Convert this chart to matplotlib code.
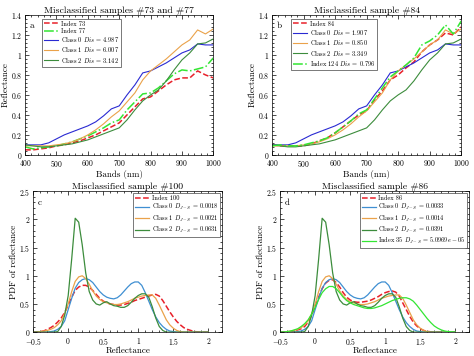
import numpy as np
from matplotlib import pyplot as plt
from matplotlib.ticker import AutoMinorLocator, FuncFormatter

plt.rcParams["font.family"] = "serif"
plt.rcParams["font.serif"] = ["cmr10", "DejaVu Serif"]
plt.rcParams["mathtext.fontset"] = "cm"
plt.rcParams["axes.formatter.use_mathtext"] = True
plt.rcParams["axes.unicode_minus"] = True

# Spectres (bandes en nm)
bands = [400, 425, 450, 475, 500, 525, 550, 575, 600, 625, 650, 675, 700,
         725, 750, 775, 800, 825, 850, 875, 900, 925, 950, 975, 1000]

class0 = [0.10, 0.10, 0.10, 0.12, 0.16, 0.20, 0.23, 0.26, 0.29, 0.33, 0.39, 0.46, 0.49,
          0.60, 0.70, 0.82, 0.84, 0.88, 0.92, 0.97, 1.02, 1.05, 1.11, 1.10, 1.10]
class1 = [0.09, 0.09, 0.09, 0.09, 0.10, 0.11, 0.13, 0.16, 0.20, 0.25, 0.31, 0.38, 0.44,
          0.53, 0.62, 0.75, 0.84, 0.90, 0.96, 1.03, 1.10, 1.15, 1.25, 1.21, 1.26]
class2 = [0.10, 0.09, 0.08, 0.08, 0.09, 0.10, 0.11, 0.13, 0.15, 0.18, 0.21, 0.24, 0.27,
          0.35, 0.45, 0.54, 0.60, 0.65, 0.74, 0.85, 0.95, 1.02, 1.11, 1.12, 1.16]

index73 = [0.05, 0.05, 0.06, 0.07, 0.09, 0.10, 0.12, 0.14, 0.17, 0.20, 0.24, 0.28, 0.32,
           0.40, 0.48, 0.56, 0.58, 0.64, 0.70, 0.75, 0.77, 0.77, 0.84, 0.80, 0.77]
index77 = [0.08, 0.06, 0.07, 0.08, 0.09, 0.11, 0.13, 0.16, 0.19, 0.23, 0.27, 0.32, 0.35,
           0.45, 0.53, 0.61, 0.62, 0.67, 0.74, 0.81, 0.85, 0.84, 0.86, 0.88, 0.97]
index84 = [0.10, 0.09, 0.09, 0.09, 0.09, 0.11, 0.14, 0.17, 0.22, 0.28, 0.34, 0.40, 0.44,
           0.55, 0.64, 0.75, 0.80, 0.87, 0.93, 1.03, 1.10, 1.15, 1.22, 1.20, 1.28]
index124 = [0.09, 0.10, 0.09, 0.09, 0.10, 0.12, 0.14, 0.17, 0.22, 0.28, 0.34, 0.41, 0.45,
            0.56, 0.67, 0.78, 0.84, 0.90, 0.97, 1.10, 1.14, 1.20, 1.30, 1.21, 1.34]

# PDF de la réflectance
refl = [-0.5, -0.45, -0.4, -0.35, -0.3, -0.25, -0.2, -0.15, -0.1, -0.05,
        0.0, 0.05, 0.1, 0.15, 0.2, 0.25, 0.3, 0.35, 0.4, 0.45,
        0.5, 0.55, 0.6, 0.65, 0.7, 0.75, 0.8, 0.85, 0.9, 0.95,
        1.0, 1.05, 1.1, 1.15, 1.2, 1.25, 1.3, 1.35, 1.4, 1.45,
        1.5, 1.55, 1.6, 1.65, 1.7, 1.75, 1.8, 1.85, 1.9, 1.95, 2.0]

pdf_c0 = [0, 0, 0, 0, 0, 0.01, 0.02, 0.05, 0.10, 0.20,
          0.40, 0.60, 0.78, 0.88, 0.93, 0.95, 0.93, 0.88, 0.80, 0.72,
          0.66, 0.62, 0.60, 0.59, 0.61, 0.66, 0.73, 0.80, 0.86, 0.89,
          0.89, 0.83, 0.70, 0.55, 0.40, 0.27, 0.17, 0.10, 0.05, 0.02,
          0.01, 0, 0, 0, 0, 0, 0, 0, 0, 0, 0]
pdf_c1 = [0, 0, 0.01, 0.02, 0.03, 0.05, 0.08, 0.13, 0.20, 0.33,
          0.50, 0.72, 0.90, 0.98, 1.00, 0.95, 0.85, 0.73, 0.64, 0.58,
          0.54, 0.52, 0.50, 0.49, 0.49, 0.50, 0.52, 0.54, 0.57, 0.60,
          0.62, 0.64, 0.65, 0.66, 0.66, 0.60, 0.48, 0.35, 0.22, 0.13,
          0.07, 0.03, 0.01, 0, 0, 0, 0, 0, 0, 0, 0]
pdf_c2 = [0, 0, 0, 0, 0, 0, 0, 0.01, 0.10, 0.30,
          0.65, 1.30, 2.02, 1.95, 1.55, 1.05, 0.72, 0.57, 0.50, 0.48,
          0.52, 0.54, 0.50, 0.47, 0.46, 0.44, 0.44, 0.47, 0.53, 0.60,
          0.65, 0.68, 0.68, 0.62, 0.45, 0.25, 0.10, 0.03, 0, 0,
          0, 0, 0, 0, 0, 0, 0, 0, 0, 0, 0]
pdf_i100 = [0, 0.005, 0.01, 0.02, 0.05, 0.08, 0.12, 0.18, 0.25, 0.35,
            0.48, 0.62, 0.74, 0.80, 0.83, 0.83, 0.80, 0.74, 0.67, 0.60,
            0.55, 0.52, 0.50, 0.49, 0.48, 0.48, 0.49, 0.51, 0.53, 0.56,
            0.58, 0.60, 0.62, 0.64, 0.66, 0.67, 0.64, 0.56, 0.46, 0.36,
            0.27, 0.19, 0.13, 0.08, 0.05, 0.03, 0.01, 0.005, 0, 0, 0]
pdf_i86 = [0, 0, 0, 0.01, 0.02, 0.04, 0.06, 0.10, 0.18, 0.30,
           0.45, 0.62, 0.77, 0.87, 0.92, 0.93, 0.88, 0.80, 0.70, 0.62,
           0.57, 0.54, 0.53, 0.53, 0.54, 0.55, 0.57, 0.60, 0.63, 0.67,
           0.70, 0.72, 0.73, 0.71, 0.64, 0.52, 0.40, 0.28, 0.18, 0.11,
           0.06, 0.03, 0.015, 0.005, 0, 0, 0, 0, 0, 0, 0]
pdf_i35 = [0, 0, 0.01, 0.02, 0.04, 0.06, 0.10, 0.15, 0.22, 0.32,
           0.44, 0.58, 0.70, 0.77, 0.81, 0.81, 0.77, 0.70, 0.62, 0.56,
           0.52, 0.49, 0.47, 0.45, 0.43, 0.42, 0.42, 0.43, 0.45, 0.47,
           0.50, 0.53, 0.56, 0.58, 0.60, 0.61, 0.61, 0.59, 0.55, 0.48,
           0.40, 0.32, 0.24, 0.17, 0.11, 0.07, 0.04, 0.02, 0.01, 0.005, 0]

RED = "#e8202a"
LIME = "#33e633"
BLUE_A = "#2a2ad2"
ORANGE = "#eaa24a"
DGREEN = "#3c8c3c"
BLUE_C = "#3f8fd2"

# étiquettes façon MATLAB : 0, 0.2, ..., 1 (signe moins en mathtext)
fmt_g = FuncFormatter(lambda v, p: "$%g$" % v)


def habillage(ax, lettre, xlabel, ylabel, titre):
    ax.tick_params(which="both", direction="in", top=True, right=True, labelsize=5.5,
                   width=0.5)
    ax.tick_params(axis="x", pad=2.5)
    ax.tick_params(axis="y", pad=2)
    ax.tick_params(which="major", length=3)
    ax.tick_params(which="minor", length=1.5)
    ax.xaxis.set_minor_locator(AutoMinorLocator(5))
    ax.yaxis.set_minor_locator(AutoMinorLocator(5))
    ax.xaxis.set_major_formatter(fmt_g)
    ax.yaxis.set_major_formatter(fmt_g)
    for s in ax.spines.values():
        s.set_linewidth(0.5)
    ax.set_xlabel(xlabel, fontsize=6.5, labelpad=0.3)
    ax.set_ylabel(ylabel, fontsize=6.5, labelpad=1)
    ax.set_title(titre, fontsize=7, pad=1.5)
    ax.text(0.025, 0.95, lettre, transform=ax.transAxes, fontsize=6.5, va="top")


def legende(ax, **kw):
    leg = ax.legend(fontsize=4.6, handlelength=2.2, fancybox=False, edgecolor="#444444",
                    framealpha=1, borderpad=0.3, labelspacing=0.2, handletextpad=0.4,
                    borderaxespad=0.3, **kw)
    leg.get_frame().set_linewidth(0.5)


fig = plt.figure(figsize=(4.74, 3.56), dpi=100)

# a
ax = fig.add_axes([0.053, 0.565, 0.397, 0.393])
ax.plot(bands, index73, "--", color=RED, lw=1.1, label="Index 73")
ax.plot(bands, index77, "-.", color=LIME, lw=1.1, label="Index 77")
ax.plot(bands, class0, color=BLUE_A, lw=0.8, label="Class 0 $Dis$ = 4.987")
ax.plot(bands, class1, color=ORANGE, lw=0.8, label="Class 1 $Dis$ = 6.007")
ax.plot(bands, class2, color=DGREEN, lw=0.8, label="Class 2 $Dis$ = 3.142")
ax.set_xlim(400, 1000)
ax.set_ylim(0, 1.4)
habillage(ax, "a", "Bands (nm)", "Reflectance", "Misclassified samples #73 and #77")
legende(ax, loc="upper left", bbox_to_anchor=(0.08, 0.985))

# b
ax = fig.add_axes([0.574, 0.565, 0.399, 0.393])
ax.plot(bands, index84, "--", color=RED, lw=1.1, label="Index 84")
ax.plot(bands, class0, color=BLUE_A, lw=0.8, label="Class 0 $Dis$ = 1.907")
ax.plot(bands, class1, color=ORANGE, lw=0.8, label="Class 1 $Dis$ = 0.850")
ax.plot(bands, class2, color=DGREEN, lw=0.8, label="Class 2 $Dis$ = 3.349")
ax.plot(bands, index124, "-.", color=LIME, lw=1.1, label="Index 124 $Dis$ = 0.796")
ax.set_xlim(400, 1000)
ax.set_ylim(0, 1.4)
habillage(ax, "b", "Bands (nm)", "Reflectance", "Misclassified sample #84")
legende(ax, loc="upper left", bbox_to_anchor=(0.09, 0.985))

# c
ax = fig.add_axes([0.070, 0.067, 0.399, 0.396])
ax.plot(refl, pdf_i100, "--", color=RED, lw=1.1, label="Index 100")
ax.plot(refl, pdf_c0, color=BLUE_C, lw=0.9, label="Class 0 $D_{J-S}$ = 0.0018")
ax.plot(refl, pdf_c1, color=ORANGE, lw=0.9, label="Class 1 $D_{J-S}$ = 0.0021")
ax.plot(refl, pdf_c2, color=DGREEN, lw=0.9, label="Class 2 $D_{J-S}$ = 0.0631")
ax.set_xlim(-0.5, 2.2)
ax.set_ylim(0, 2.5)
ax.set_xticks([-0.5, 0, 0.5, 1, 1.5, 2])
habillage(ax, "c", "Reflectance", "PDF of reflectance", "Misclassified sample #100")
legende(ax, loc="upper right")

# d
ax = fig.add_axes([0.591, 0.067, 0.399, 0.396])
ax.plot(refl, pdf_i86, "--", color=RED, lw=1.1, label="Index 86")
ax.plot(refl, pdf_c0, color=BLUE_C, lw=0.9, label="Class 0 $D_{J-S}$ = 0.0033")
ax.plot(refl, pdf_c1, color=ORANGE, lw=0.9, label="Class 1 $D_{J-S}$ = 0.0014")
ax.plot(refl, pdf_c2, color=DGREEN, lw=0.9, label="Class 2 $D_{J-S}$ = 0.0391")
ax.plot(refl, pdf_i35, color=LIME, lw=0.9, label="Index 35 $D_{J-S}$ = 5.0969$e-$05")
ax.set_xlim(-0.5, 2.2)
ax.set_ylim(0, 2.5)
ax.set_xticks([-0.5, 0, 0.5, 1, 1.5, 2])
habillage(ax, "d", "Reflectance", "PDF of reflectance", "Misclassified sample #86")
legende(ax, loc="upper right")

fig.savefig("out.png", dpi=100)
